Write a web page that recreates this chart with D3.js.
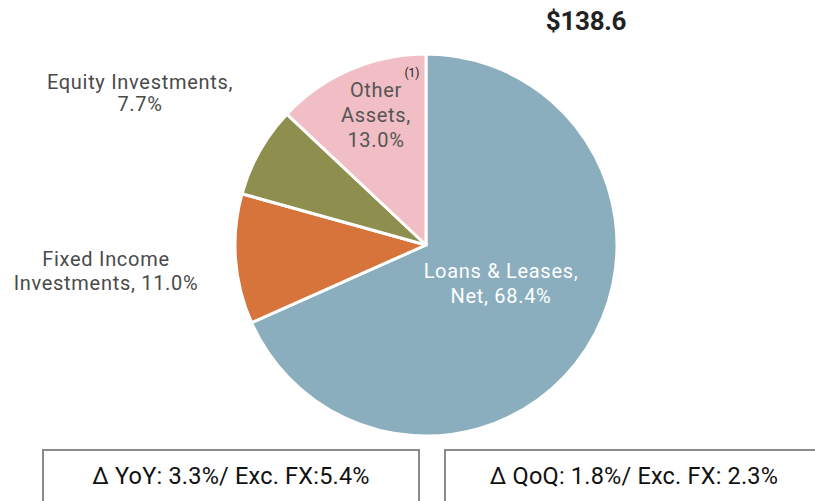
<!DOCTYPE html>
<html><head><meta charset="utf-8">
<script src="https://cdn.jsdelivr.net/npm/d3@7"></script>
<style>
html,body{margin:0;padding:0;background:#fff;}
svg{display:block;font-family:Roboto, "Noto Sans", sans-serif;}
</style></head>
<body>
<svg id="chart" width="815" height="501"></svg>
<script>
const categories = ["Loans & Leases, Net", "Fixed Income Investments", "Equity Investments", "Other Assets"];
const values = [68.4, 11.0, 7.7, 13.0];
const labelLines = [["Loans & Leases,", "Net, 68.4%"], ["Fixed Income", "Investments, 11.0%"], ["Equity Investments,", "7.7%"], ["Other", "Assets,", "13.0%"]];
const colors = ["#8AAEBD", "#D6743C", "#8E8F4E", "#F0BEC4"];
const total = "$138.6";
const boxTexts = ["\u0394 YoY: 3.3%/ Exc. FX:5.4%", "\u0394 QoQ: 1.8%/ Exc. FX: 2.3%"];

const svg = d3.select("#chart");
const cx = 426, cy = 245, r = 191;

const pie = d3.pie().sort(null).value(d => d)(values);
const arc = d3.arc().innerRadius(0).outerRadius(r);
const g = svg.append("g").attr("transform", `translate(${cx},${cy})`);
g.selectAll("path").data(pie).join("path")
  .attr("d", arc).attr("fill", (d,i) => colors[i])
  .attr("stroke", "#fff").attr("stroke-width", 3).attr("stroke-linejoin", "round");

// label layout (anchor x, first baseline y, line height, colour)
const labelLayout = [
  {x: 501, y: 278, lh: 25, c: "#ffffff"},
  {x: 106, y: 266, lh: 24, c: "#4a4a4a"},
  {x: 140, y: 89, lh: 22, c: "#4a4a4a"},
  {x: 376, y: 97, lh: 25, c: "#555555"}
];
labelLines.forEach((lines, i) => {
  const L = labelLayout[i];
  const t = svg.append("text").attr("text-anchor", "middle").attr("fill", L.c)
    .attr("font-size", 20).attr("letter-spacing", 0.7);
  lines.forEach((s, k) => t.append("tspan").attr("x", L.x).attr("y", L.y + k * L.lh).text(s));
});
svg.append("text").attr("x", 412).attr("y", 77).attr("text-anchor", "middle")
  .attr("font-size", 12).attr("fill", "#222").text("(1)");

svg.append("text").attr("x", 586).attr("y", 30).attr("text-anchor", "middle")
  .attr("font-size", 26).attr("font-weight", "bold").attr("fill", "#222").attr("letter-spacing", -0.3).text(total);

const boxes = [{x: 43, w: 376}, {x: 445, w: 380}];
boxes.forEach((b, i) => {
  svg.append("rect").attr("x", b.x).attr("y", 450).attr("width", b.w).attr("height", 60)
    .attr("fill", "#fff").attr("stroke", "#8a8a8a").attr("stroke-width", 2);
});
svg.append("text").attr("x", 231).attr("y", 484).attr("text-anchor", "middle")
  .attr("font-size", 23.5).attr("fill", "#111").attr("letter-spacing", 0.2).text(boxTexts[0]);
svg.append("text").attr("x", 634).attr("y", 484).attr("text-anchor", "middle")
  .attr("font-size", 23.5).attr("fill", "#111").attr("letter-spacing", 0.2).text(boxTexts[1]);
</script>
</body></html>
